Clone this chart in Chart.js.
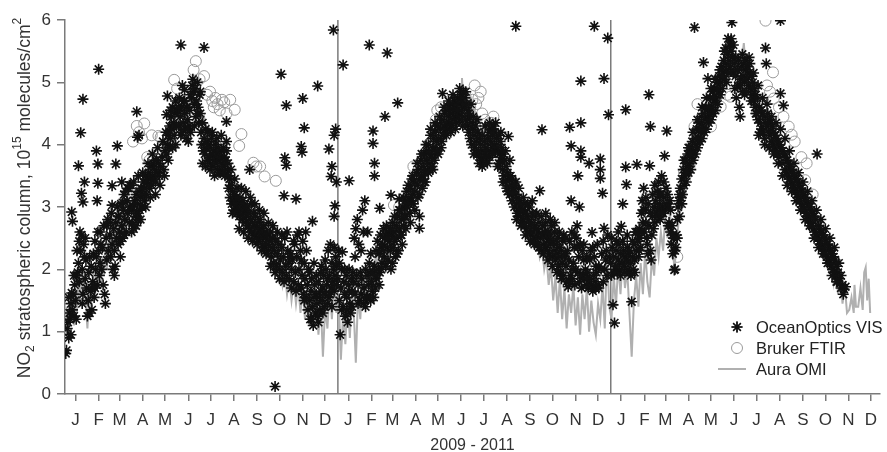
<!DOCTYPE html>
<html>
<head>
<meta charset="utf-8">
<script src="https://cdn.jsdelivr.net/npm/chart.js@4.4.1/dist/chart.umd.min.js"></script>
<style>
  html, body { margin: 0; padding: 0; background: #fff; }
  #wrap { width: 887px; height: 452px; position: relative; }
</style>
</head>
<body>
<div id="wrap"><canvas id="no2Chart"></canvas></div>
<script>
// x = days since 1 Jan 2009, y = NO2 column (1e15 molecules/cm2)
const monthLetters = ['J', 'F', 'M', 'A', 'M', 'J', 'J', 'A', 'S', 'O', 'N', 'D'];
const monthStarts = [0, 31, 59, 90, 120, 151, 181, 212, 243, 273, 304, 334];
const yearStarts = [0, 365, 730];
const yearBoundaries = [365, 730];
const yTicks = [0, 1, 2, 3, 4, 5, 6];

// OceanOptics VIS (asterisks)
const oceanOptics = [
  // 2009
  [1,0.65],[2,0.70],[3,1.05],[4,1.15],[5,0.9],[6,1.3],[7,1.2],[8,1.45],[9,1.62],[10,1.35],[11,1.6],[12,1.25],[13,1.75],[14,1.5],[15,1.9],
  [16,2.3],[17,1.95],[18,2.1],[19,1.8],[20,2.6],[21,2.3],[22,2.55],[23,2.0],[24,1.6],[25,2.4],[26,2.2],[27,1.85],[28,2.15],[29,1.7],
  [30,1.25],[31,1.5],[32,1.95],[33,1.3],[34,1.65],[35,2.05],[36,1.7],[37,1.8],[38,2.25],[39,1.55],[40,2.45],[41,2.0],[42,2.2],[43,1.75],
  [44,2.6],[45,2.3],[46,1.9],[47,2.1],[48,2.4],[49,2.0],[50,2.35],[52,2.7],[53,1.6],[54,1.45],[55,2.5],[56,2.15],[57,2.8],[58,2.3],
  [60,2.55],[61,2.2],[62,2.9],[63,2.4],[64,2.0],[65,2.65],[66,2.3],[67,2.05],[68,2.75],[69,2.5],[70,3.0],[71,2.4],[72,2.85],[73,2.6],
  [74,2.2],[75,3.05],[76,2.7],[77,2.5],[78,2.95],[79,3.2],[80,2.8],[82,2.6],[83,3.1],[84,2.9],[85,3.3],[86,2.75],[87,3.0],[88,3.35],[89,2.95],
  [90,2.75],[91,3.0],[92,2.65],[93,3.1],[94,2.85],[95,3.2],[96,2.9],[97,3.05],[98,2.8],[99,3.25],[100,2.95],[101,3.15],[102,3.3],[103,3.0],
  [104,3.2],[105,3.4],[106,3.1],[107,3.3],[108,3.5],[109,3.2],[110,3.4],[112,3.55],[113,3.3],[114,3.45],[115,3.65],[116,3.35],[117,3.5],[118,3.7],[119,3.45],
  [120,3.6],[121,3.4],[122,3.75],[123,3.55],[125,3.7],[126,3.5],[128,3.65],[130,3.8],[132,3.6],[134,3.9],[136,3.85],[137,4.0],[138,4.15],[139,3.95],
  [140,4.3],[141,4.1],[142,4.45],[143,4.25],[144,4.6],[145,4.35],[146,4.15],[147,4.5],[148,4.7],[149,4.3],[150,4.55],
  [151,4.55],[152,4.3],[153,4.75],[154,4.45],[155,4.15],[156,4.6],[157,4.95],[158,4.35],[159,4.7],[160,4.5],[161,4.25],[162,4.1],[163,4.6],
  [164,4.4],[165,4.05],[166,4.3],[167,4.55],[168,4.2],[169,4.75],[170,4.95],[171,5.05],[172,4.85],[173,4.65],[174,4.9],[175,4.45],[176,4.7],
  [177,5.0],[178,4.6],[179,4.35],[180,4.8],[181,4.5],[182,4.2],[183,4.0],[184,4.35],[185,3.9],[186,4.1],[187,3.85],[188,4.25],[189,3.95],
  [190,4.05],[191,3.75],[192,4.0],[193,3.8],[194,3.95],[195,3.7],[196,4.1],[197,3.85],[198,3.65],[199,3.9],[200,3.75],[201,4.0],[202,3.7],
  [203,3.85],[204,3.6],[205,3.95],[206,3.75],[207,3.8],[208,3.55],[209,3.9],[210,3.7],[211,3.65],[212,3.95],[213,3.8],[214,3.5],[215,3.75],
  [216,3.9],[217,3.6],[218,3.7],[219,3.3],[220,3.45],[221,3.15],[222,3.35],[223,3.05],[224,3.25],[225,3.1],[226,2.95],[227,3.2],[228,3.0],
  [229,3.15],[230,2.9],[231,3.1],[232,3.05],[233,2.85],[234,3.15],[235,2.95],[236,3.0],[237,2.8],[238,3.1],[239,2.9],[240,3.05],[241,2.75],
  [242,2.95],[243,2.85],[244,3.0],[245,2.7],[246,2.9],[247,2.65],[248,2.8],[249,3.05],[250,2.6],[251,2.75],[252,2.9],[253,2.55],[254,2.7],
  [255,2.85],[256,2.5],[257,2.65],[258,2.75],[259,2.45],[260,2.6],[261,2.8],[262,2.5],[263,2.65],[264,2.4],[265,2.55],[266,2.7],[267,2.35],
  [268,2.5],[269,2.6],[270,2.4],[271,2.55],[272,2.3],[274,2.45],[275,2.6],[276,2.2],[277,2.35],[278,2.5],[279,2.1],[280,2.3],[282,2.45],
  [283,2.05],[284,2.25],[286,2.4],[287,2.0],[288,2.15],[290,2.35],[291,1.95],[292,2.2],[294,2.5],[295,2.05],[296,1.9],[298,2.3],[299,2.1],
  [300,1.85],[302,2.25],[303,2.0],[304,2.15],[306,1.8],[307,2.4],[308,1.95],[310,2.2],[311,2.55],[312,1.75],[313,2.0],[315,2.3],[316,1.7],
  [317,1.9],[318,2.45],[319,1.6],[320,2.1],[321,1.85],[322,2.6],[323,1.55],[324,1.75],[325,1.35],[326,2.0],[327,1.5],[328,1.2],[329,1.65],
  [330,1.85],[331,1.4],[332,1.1],[333,1.55],[334,1.75],[335,1.3],[336,1.6],[337,1.45],[338,1.25],[339,1.8],[340,1.55],[341,1.35],[342,1.65],
  [343,2.05],[344,1.5],[345,1.7],[346,1.9],[347,1.4],[348,1.6],[349,2.0],[350,1.75],[351,1.85],[352,2.3],[353,1.55],[354,1.9],[355,2.4],
  [356,1.7],[357,2.1],[358,1.8],[359,2.0],[360,1.65],[361,1.9],[362,2.2],[363,1.75],
  // 2009, spread of the band
  [5,1.55],[8,0.95],[12,1.9],[15,1.2],[19,2.45],[23,1.45],[27,2.5],[33,2.2],[36,1.35],[40,1.7],[47,2.6],[51,1.75],[56,2.7],[61,2.75],
  [66,1.9],[71,2.85],[74,2.45],[79,2.55],[81,3.25],[86,3.35],[89,2.6],[92,3.4],[95,2.7],[98,3.5],[101,2.8],[104,3.55],[108,3.0],[111,3.7],
  [114,3.15],[117,3.85],[121,3.2],[124,3.95],[127,3.35],[131,4.05],[133,3.5],[135,4.2],[138,3.75],[141,4.55],[144,3.95],[148,4.0],[152,4.6],
  [156,4.2],[160,4.7],[164,4.25],[168,4.8],[173,4.3],[177,4.5],[181,4.85],[184,3.7],[188,3.65],[191,4.2],[194,3.6],[197,4.2],[200,3.5],
  [203,4.1],[206,3.55],[209,4.15],[213,3.55],[216,4.05],[219,3.5],[222,3.6],[224,2.9],[227,3.45],[230,3.3],[233,2.65],[236,3.3],[239,2.6],
  [242,3.25],[245,2.5],[248,3.15],[251,2.45],[254,3.05],[257,2.4],[260,2.95],[263,2.3],[266,2.9],[269,2.25],[272,2.75],[275,2.05],[278,2.7],
  [281,1.95],[284,2.6],[287,1.85],[290,2.55],[293,1.8],[297,2.6],[300,2.2],[303,1.7],[306,2.45],[309,1.65],[313,2.6],[316,2.15],[320,1.5],
  [323,2.3],[327,1.95],[330,1.2],[333,2.1],[336,1.9],[339,1.15],[342,1.95],[345,1.3],[348,2.15],[351,1.45],[354,1.6],[357,1.4],[360,2.35],[363,2.05],
  // 2010
  [365,1.85],[366,2.3],[367,1.5],[368,0.95],[369,1.7],[370,2.0],[371,2.28],[372,1.4],[373,1.8],[374,1.6],[375,1.25],[376,1.9],[377,1.55],
  [378,1.15],[379,1.75],[380,2.0],[381,1.45],[382,1.3],[383,1.85],[384,1.65],[385,1.95],[386,1.8],[387,2.5],[388,1.6],[389,2.65],[390,1.9],
  [391,2.8],[392,1.75],[393,2.4],[394,1.5],[395,1.95],[396,1.6],[397,1.85],[398,2.95],[399,1.45],[400,1.7],[401,3.1],[402,2.0],[403,1.55],
  [404,1.9],[405,2.6],[406,1.75],[407,2.1],[408,1.95],[409,1.5],[410,1.8],[411,1.65],[412,1.95],[414,2.05],[415,1.7],[416,2.3],[417,1.85],
  [418,2.45],[419,2.0],[420,2.25],[421,1.95],[422,2.55],[423,2.35],[424,2.1],[425,2.4],[426,2.65],[427,2.2],[428,2.5],[429,2.05],[430,2.7],
  [431,2.35],[432,2.15],[433,2.6],[434,2.45],[435,2.3],[436,2.0],[437,2.55],[438,2.75],[439,2.35],[440,2.6],[441,2.45],[442,2.2],[443,2.7],
  [444,2.5],[445,2.85],[446,2.3],[447,2.65],[448,2.95],[449,2.55],[450,2.8],[451,2.4],[452,3.0],[453,2.7],[454,2.85],
  [455,3.1],[456,2.85],[457,3.25],[458,3.0],[459,3.35],[460,3.15],[461,2.9],[462,3.3],[463,3.1],[464,3.45],[465,3.2],[466,3.05],[467,3.4],
  [468,3.25],[470,3.55],[471,3.35],[472,3.15],[473,3.6],[474,2.66],[475,3.45],[476,3.75],[477,3.5],[478,3.3],[479,3.65],[480,3.85],[481,3.55],
  [482,3.4],[483,3.75],[484,3.9],[485,3.6],[486,4.0],[487,3.7],[488,3.85],[489,4.15],[490,3.8],[491,3.65],[492,3.95],[493,4.1],[494,3.75],
  [495,4.2],[496,3.9],[497,4.05],[498,4.3],[499,3.85],[500,4.1],[502,4.25],[503,3.95],[504,4.4],[506,4.15],[507,4.3],[508,4.5],[509,4.2],
  [510,4.35],[511,4.55],[512,4.25],[513,4.45],[514,4.6],[515,4.35],[516,4.5],[517,4.3],[518,4.65],[519,4.4],[520,4.55],[521,4.7],[522,4.45],
  [523,4.6],[524,4.35],[525,4.75],[526,4.5],[527,4.65],[528,4.4],[529,4.8],[530,4.55],[531,4.7],[532,4.45],[533,4.85],[534,4.6],[535,4.75],
  [536,4.4],[537,4.65],[538,4.3],[539,4.55],[540,4.2],[541,4.45],[542,4.1],[543,4.35],[544,4.0],[545,4.25],[546,4.45],[547,4.15],[548,3.95],
  [549,4.3],[550,4.05],[551,3.85],[552,4.2],[553,3.9],[554,4.1],[555,3.8],[556,4.0],[557,3.75],[558,4.15],[559,3.9],[560,3.7],[561,4.05],
  [562,3.85],[563,3.95],[564,3.75],[565,4.1],[566,3.9],[567,4.2],[568,3.8],[569,4.05],[570,4.25],[571,3.95],[572,4.15],[573,4.3],[574,4.0],
  [575,4.2],[576,3.9],[577,4.1],[578,3.95],[580,4.15],[581,3.85],[582,4.05],[583,3.75],[584,3.95],[585,3.6],[586,3.85],[587,3.5],[588,3.75],
  [589,3.4],[590,3.65],[591,3.3],[592,3.55],[594,3.45],[595,3.2],[596,3.5],[597,3.35],[598,3.1],[600,3.3],[601,3.0],[602,3.2],[603,3.4],
  [604,3.05],[605,2.9],[606,3.15],[607,2.95],[608,3.1],[609,2.85],[610,3.0],[611,2.75],[612,2.95],[613,2.8],[614,3.05],[615,2.7],[616,2.9],
  [617,2.65],[618,2.85],[619,2.6],[620,2.8],[621,3.0],[622,2.7],[623,2.55],[624,2.75],[625,2.9],[626,2.6],[627,2.45],[628,2.7],[629,2.85],
  [630,2.5],[631,2.65],[632,2.4],[633,2.6],[634,2.75],[636,2.5],[637,2.3],[638,2.55],[639,2.7],[640,2.4],[641,2.6],[642,2.35],[643,2.75],
  [644,2.5],[645,2.3],[646,2.6],[647,2.45],[648,2.25],[649,2.55],[650,2.4],[651,2.7],[652,2.2],[653,2.45],[654,2.3],[655,2.6],[656,2.15],
  [657,2.4],[658,2.25],[659,2.5],[660,2.05],[661,2.35],[662,2.2],[663,1.95],[664,2.3],[665,2.1],[666,2.45],[667,1.9],[668,2.2],
  [669,2.25],[670,2.05],[671,1.8],[672,2.3],[673,1.72],[674,2.15],[675,2.45],[676,1.9],[678,2.6],[679,1.85],[680,2.1],[681,2.35],[682,1.75],
  [683,2.0],[684,2.5],[685,2.7],[686,1.95],[687,2.2],[688,1.8],[689,2.4],[691,1.7],[692,2.3],[693,1.9],[694,2.15],[695,1.85],[696,2.0],
  [697,1.75],[698,2.2],[699,1.95],[700,1.7],[702,1.85],[703,2.3],[704,1.75],[706,1.65],[707,1.9],[708,2.2],[709,1.8],[710,1.7],[711,1.95],
  [712,2.4],[713,1.75],[714,2.05],[718,2.25],[720,2.45],[722,2.0],[724,2.3],[726,2.55],[728,2.2],
  // 2010, spread of the band
  [367,2.1],[370,1.35],[374,2.0],[377,1.35],[380,1.65],[384,1.4],[388,2.2],[392,1.45],[396,2.3],[399,2.6],[402,1.4],[405,1.55],[409,2.25],
  [413,1.55],[416,1.9],[420,1.75],[423,2.0],[426,2.3],[429,2.55],[432,2.5],[435,2.65],[438,2.1],[441,2.85],[444,2.25],[447,2.95],[450,2.55],
  [453,3.15],[456,2.65],[459,3.05],[462,2.75],[465,3.5],[468,2.95],[471,3.7],[474,3.2],[477,3.85],[480,3.4],[483,4.0],[486,3.55],[489,4.25],
  [492,3.6],[495,4.35],[498,3.9],[501,4.45],[504,4.05],[507,4.6],[510,4.15],[513,4.7],[516,4.2],[519,4.8],[522,4.25],[525,4.55],[528,4.9],
  [532,4.3],[536,4.85],[540,4.5],[543,4.65],[547,3.85],[551,4.4],[554,3.7],[558,3.65],[562,4.3],[565,3.7],[568,4.35],[572,3.85],[576,4.35],
  [580,3.7],[583,4.2],[586,3.4],[589,3.9],[592,3.25],[595,3.75],[598,3.45],[601,3.35],[604,2.8],[607,3.3],[610,2.7],[613,3.15],[616,2.55],
  [619,3.05],[622,2.45],[625,3.1],[628,2.4],[631,2.9],[634,2.35],[637,2.85],[640,2.25],[643,2.9],[646,2.15],[649,2.8],[652,2.05],[655,2.75],
  [658,1.95],[661,2.6],[664,1.85],[667,2.55],[670,2.5],[674,1.8],[678,2.0],[682,2.55],[686,2.35],[690,1.9],[694,2.4],[698,1.85],[702,2.15],
  [706,2.35],[710,2.05],[714,1.7],[717,2.0],[720,1.8],[723,2.15],[725,1.9],
  // 2011
  [730,2.1],[731,1.9],[732,2.35],[734,2.2],[736,2.0],[737,2.3],[738,2.45],[739,1.95],[740,2.15],[741,2.4],[742,2.0],[743,2.25],[745,2.1],
  [747,2.3],[748,2.05],[749,2.2],[751,2.15],[752,2.35],[753,2.0],[754,2.25],[755,1.95],[756,2.1],[757,1.9],[759,2.2],[760,2.0],[761,2.4],
  [762,2.15],[763,2.6],[764,2.3],[766,2.45],[767,2.2],[768,2.65],[769,2.5],[770,2.35],[771,2.9],[772,3.1],[773,2.75],[774,3.3],[775,2.6],
  [776,2.95],[777,3.15],[778,2.5],[779,2.4],[780,2.25],[781,2.7],[783,2.3],[784,2.15],[785,2.55],[786,2.85],[787,2.65],[788,3.0],[789,2.75],
  [790,3.1],[791,2.9],[792,3.25],[793,2.95],[794,3.4],[795,3.05],[796,2.8],[797,3.2],[798,3.5],[799,3.0],[800,2.9],[801,3.15],[803,2.95],
  [804,3.05],[806,3.2],[807,3.0],[808,2.75],[809,3.1],[810,2.6],[811,2.4],[812,2.7],[813,2.25],[814,2.5],[816,2.0],[817,2.35],[818,2.55],
  [819,2.8],[820,3.0],[821,3.1],[822,2.85],[823,3.3],[824,3.15],[825,3.45],[826,3.2],[827,3.6],[828,3.35],[829,3.5],[830,3.75],[831,3.4],
  [832,3.65],[833,3.85],[834,3.55],[835,3.7],[836,3.95],[837,3.6],[838,3.8],[839,4.05],[840,3.75],[841,3.9],[843,3.85],[844,4.0],[845,4.25],
  [846,3.95],[847,4.1],[848,4.35],[849,4.05],[850,4.2],[851,4.45],[852,4.1],[853,4.3],[855,4.2],[856,4.4],[857,4.6],[858,4.25],[859,4.45],
  [861,4.35],[862,4.5],[863,4.75],[864,4.4],[865,4.6],[866,4.85],[867,4.5],[868,4.7],[869,4.9],[870,4.55],[871,4.75],[872,5.0],[873,4.65],
  [874,4.85],[875,5.1],[876,4.8],[877,5.0],[878,5.25],[879,4.9],[880,5.15],[881,5.35],[882,5.05],[883,5.3],[884,5.55],[885,5.2],[886,5.45],
  [887,5.7],[888,5.35],[889,5.6],[890,5.25],[891,5.5],[892,5.96],[893,5.4],[894,5.15],[895,5.3],[896,4.9],[897,5.1],[898,4.75],[899,5.2],
  [900,4.95],[901,5.35],[902,4.6],[904,5.05],[905,5.25],[906,4.85],[907,5.1],[908,5.3],[909,5.0],[910,5.2],[911,5.35],[912,5.05],[913,5.25],
  [914,4.95],[915,5.15],[916,5.3],[917,4.9],[918,5.1],[919,4.8],[920,5.0],[921,4.7],[922,4.9],[923,4.6],[924,4.8],[925,4.5],[926,4.75],
  [927,4.4],[929,4.6],[930,4.35],[931,4.55],[932,4.25],[933,4.5],[934,4.2],[935,4.45],[936,4.1],[937,4.35],[939,4.3],[940,4.5],[941,4.2],
  [942,4.4],[943,4.15],[944,4.35],[945,4.05],[946,4.3],[947,4.0],[948,4.2],[949,3.95],[950,4.15],[951,3.9],[952,4.1],[953,3.85],[954,4.05],
  [955,3.8],[956,4.0],[958,3.95],[959,3.7],[960,3.9],[962,3.85],[963,3.6],[964,3.8],[965,3.55],[966,3.75],[967,3.5],[968,3.7],[969,3.45],
  [970,3.65],[971,3.4],[972,3.6],[973,3.35],[974,3.55],[975,3.3],[976,3.5],[977,3.25],[978,3.45],[979,3.2],[980,3.4],[981,3.15],[982,3.35],
  [983,3.1],[984,3.3],[985,3.05],[986,3.25],[987,3.0],[988,3.2],[989,2.95],[990,3.15],[991,2.9],[992,3.1],[993,2.85],[994,3.05],[995,2.8],
  [996,3.0],[997,2.75],[998,2.95],[999,2.7],[1000,2.9],[1001,2.65],[1002,2.85],[1003,2.6],[1004,2.8],[1005,2.55],[1007,2.5],[1008,2.7],
  [1009,2.45],[1010,2.65],[1011,2.4],[1012,2.6],[1013,2.35],[1014,2.55],[1015,2.3],[1016,2.5],[1017,2.25],[1018,2.45],[1019,2.2],[1020,2.4],
  [1021,2.15],[1022,2.35],[1023,2.1],[1024,2.3],[1025,2.05],[1026,2.25],[1027,2.0],[1028,2.2],[1029,1.95],[1030,2.15],[1031,1.9],[1032,2.05],
  [1033,1.8],[1034,1.95],[1036,1.85],[1038,1.7],[1040,1.75],[1042,1.68],[1044,1.72],
  // 2011, spread of the band
  [731,2.5],[734,1.95],[737,2.05],[740,2.6],[743,1.9],[746,2.45],[749,1.95],[752,2.55],[755,2.3],[759,2.45],[762,1.95],[765,2.6],[768,2.3],
  [771,2.6],[774,2.95],[777,2.75],[780,3.05],[783,2.9],[786,3.2],[789,3.35],[792,2.85],[795,3.2],[798,2.9],[801,3.4],[804,3.3],[807,2.7],
  [810,2.95],[813,2.55],[816,2.3],[819,2.5],[822,3.2],[825,3.05],[828,3.75],[831,3.55],[834,3.95],[837,3.85],[840,4.2],[843,4.1],[846,4.4],
  [849,4.25],[852,4.6],[855,4.5],[858,4.75],[861,4.6],[864,4.9],[867,4.75],[870,5.05],[873,4.9],[876,5.2],[879,5.1],[882,5.5],[885,5.0],
  [888,5.15],[891,5.7],[894,5.6],[897,5.4],[900,5.2],[903,4.95],[906,5.45],[909,4.8],[912,4.85],[915,5.4],[918,4.7],[921,5.15],[924,4.5],
  [927,4.95],[930,4.2],[933,4.75],[936,4.0],[939,4.65],[942,3.95],[945,4.45],[948,3.85],[951,4.35],[954,3.7],[957,4.25],[960,3.5],[963,4.1],
  [966,3.35],[969,3.9],[972,3.25],[975,3.7],[978,3.1],[981,3.55],[984,2.95],[987,3.4],[990,2.8],[993,3.25],[996,2.7],[999,3.1],[1002,2.5],
  [1005,2.95],[1008,2.35],[1011,2.8],[1014,2.25],[1017,2.65],[1020,2.1],[1023,2.5],[1026,1.9],[1029,2.35],[1032,1.8],[1035,2.1],[1038,1.9],[1041,1.6],
  // scattered high / low values
  [9,2.92],[10,2.77],[18,3.66],[21,4.19],[22,3.22],[24,4.73],[24,3.08],[26,3.4],[42,3.9],[43,3.1],[44,3.69],[44,3.38],[45,5.21],
  [63,3.34],[63,3.03],[68,3.69],[70,3.98],[76,3.4],[77,3.07],[96,4.53],[97,4.12],[99,4.15],[136,4.48],[137,4.78],[155,5.6],[160,4.88],
  [186,5.56],[216,4.37],[247,3.6],[281,0.12],[289,5.13],[293,3.18],[294,3.79],[296,3.67],[296,4.63],[309,3.13],[316,3.97],[317,3.88],
  [318,4.74],[320,4.27],[331,2.77],[338,4.94],[353,3.93],[356,3.49],[357,3.65],[359,5.84],[360,4.15],[360,2.85],[361,3.02],[362,4.25],[363,3.4],
  [372,5.28],[380,3.42],[407,5.6],[412,4.22],[412,4.02],[414,3.7],[414,3.5],[421,2.98],[428,4.45],[431,5.47],[436,3.19],[445,4.67],
  [447,3.13],[474,2.85],[505,4.82],[579,3.65],[593,4.13],[599,3.22],[603,5.9],[635,3.26],[638,4.24],[675,4.28],[677,3.98],[677,3.1],
  [686,3.5],[688,3.0],[690,5.02],[690,4.35],[690,3.9],[690,3.8],[701,3.7],[705,2.59],[708,5.9],[716,3.77],[716,3.6],[716,3.46],[719,3.22],
  [721,5.06],[721,2.66],[726,5.71],[727,4.48],[733,1.43],[735,1.14],[744,2.69],[746,3.05],[750,4.56],[750,3.64],[751,3.36],[758,1.48],
  [765,3.68],[781,4.8],[782,3.66],[783,4.29],[802,3.82],[805,4.22],[815,1.99],[842,5.88],[854,5.32],[860,5.06],[903,4.45],[928,4.15],
  [937,5.55],[938,5.3],[957,5.99],[957,4.82],[961,4.63],[1006,3.85]
];

// Bruker FTIR (open circles)
const brukerFtir = [
  [91,4.05],[96,4.3],[99,4.2],[103,4.1],[106,4.34],[110,3.8],[113,3.75],[116,4.15],[125,4.14],[128,4.12],[146,5.04],[150,4.9],[153,4.7],
  [165,4.65],[172,5.2],[175,5.34],[180,5.05],[186,5.1],[190,4.8],[194,4.85],[197,4.7],[199,4.6],[201,4.75],[204,4.65],[207,4.55],[210,4.72],
  [213,4.68],[216,4.5],[221,4.72],[227,4.56],[233,3.98],[236,4.17],[252,3.71],[256,3.65],[261,3.65],[267,3.49],[282,3.42],
  [440,3.03],[447,3.0],[450,2.7],[466,3.65],[468,3.49],[496,4.4],[498,4.55],[503,4.6],[505,4.45],[542,4.6],[545,4.72],[548,4.95],
  [550,4.65],[553,4.75],[556,4.85],[558,4.5],[562,4.4],[566,4.28],[570,4.35],[573,4.45],[697,2.04],
  [819,2.2],[828,3.55],[833,3.65],[839,3.94],[842,4.29],[846,4.65],[864,4.29],[870,4.88],[877,4.61],[886,4.8],[890,4.77],
  [937,5.99],[939,4.95],[943,4.85],[947,5.16],[948,4.74],[955,4.6],[961,4.45],[968,4.29],[972,4.16],[976,4.05],[985,3.8],[990,3.43],[992,3.7],[1000,3.2]
];

// Aura OMI (grey line)
const auraOmi = [
  [0,1.1],[2,1.4],[4,0.9],[6,1.5],[8,1.2],[10,1.6],[12,1.1],[14,1.7],[16,1.3],[18,1.9],[20,1.45],[22,2.0],[24,1.6],[26,1.95],[28,1.4],
  [30,1.05],[32,1.6],[34,1.2],[36,1.75],[38,1.9],[40,1.5],[42,2.0],[44,1.7],[46,2.1],[48,1.8],[50,2.2],[52,1.9],[54,2.3],[56,2.0],[58,2.45],
  [60,2.2],[62,2.5],[64,2.3],[66,2.6],[68,2.4],[70,2.7],[72,2.5],[74,2.8],[76,2.6],[78,2.85],[80,2.7],[82,3.0],[84,2.8],[86,3.1],[88,2.95],
  [90,3.15],[93,3.0],[96,3.3],[99,3.15],[102,3.4],[105,3.3],[108,3.5],[111,3.4],[114,3.55],[117,3.7],[120,3.6],[123,3.8],[126,3.7],[129,3.9],
  [132,4.05],[135,3.95],[138,4.15],[141,4.3],[144,4.2],[147,4.4],[150,4.3],[153,4.5],[156,4.45],[159,4.6],[162,4.5],[165,4.7],[168,4.6],
  [171,4.75],[174,4.65],[177,4.5],[180,4.6],[183,4.35],[186,4.45],[189,4.2],[192,4.3],[195,4.1],[198,4.15],[201,3.95],[204,4.05],[207,3.85],
  [210,3.9],[213,3.7],[216,3.6],[219,3.4],[222,3.25],[225,3.1],[228,3.05],[231,2.95],[234,3.0],[237,2.85],[240,2.9],[243,2.75],[246,2.8],
  [249,2.65],[252,2.7],[255,2.55],[258,2.6],[261,2.45],[264,2.5],[267,2.35],[270,2.4],[273,2.2],[276,2.3],[279,2.05],[282,2.15],[285,1.9],
  [288,2.05],[291,1.75],[294,1.95],[297,1.6],[300,1.85],[303,1.5],[306,1.8],[309,1.45],[312,1.75],[315,1.3],[318,1.7],[321,1.2],[324,1.65],
  [327,1.1],[330,1.55],[333,1.25],[336,1.6],[339,0.95],[342,1.5],[345,0.6],[348,1.4],[351,1.05],[354,1.7],[357,1.2],[360,1.9],[363,1.3],
  [366,1.6],[369,0.55],[372,1.3],[375,0.8],[378,1.5],[381,0.9],[384,1.7],[387,1.1],[389,0.5],[392,1.6],[395,1.2],[398,1.9],[401,1.4],
  [404,2.0],[407,1.6],[410,2.1],[413,1.8],[416,2.3],[419,1.9],[422,2.4],[425,2.1],[428,2.5],[431,2.2],[434,2.6],[437,2.4],[440,2.75],
  [443,2.55],[446,2.9],[449,2.7],[452,3.0],[455,2.85],[458,3.1],[461,3.0],[464,3.3],[467,3.15],[470,3.45],[473,3.35],[476,3.6],[479,3.5],
  [482,3.75],[485,3.65],[488,3.85],[491,3.8],[494,4.0],[497,3.9],[500,4.15],[503,4.05],[506,4.3],[509,4.2],[512,4.4],[515,4.35],[518,4.5],
  [521,4.45],[524,4.6],[527,4.5],[530,4.7],[531,5.07],[533,4.6],[536,4.75],[539,4.65],[542,4.8],[545,4.6],[548,4.55],[551,4.35],[554,4.4],
  [557,4.2],[560,4.25],[563,4.1],[566,4.15],[569,4.05],[572,4.2],[575,4.0],[578,3.95],[581,3.8],[584,3.85],[587,3.6],[590,3.5],[593,3.3],
  [596,3.35],[599,3.1],[602,3.2],[605,3.0],[608,3.05],[611,2.85],[614,2.95],[617,2.7],[620,2.8],[623,2.55],[626,2.65],[629,2.4],[632,2.5],
  [635,2.2],[638,2.35],[641,2.0],[644,2.2],[647,1.75],[650,2.05],[653,1.5],[656,1.9],[659,1.3],[662,1.85],[665,1.2],[668,1.7],[671,1.05],
  [674,1.6],[677,1.3],[680,1.75],[683,1.1],[686,1.55],[689,0.95],[692,1.6],[695,1.2],[698,1.7],[701,1.0],[704,1.5],[707,1.15],[710,0.95],
  [713,1.45],[716,1.2],[719,1.75],[722,1.05],[725,2.3],[728,1.4],[731,1.2],[734,1.9],[737,1.4],[740,2.1],[743,1.6],[746,2.2],[749,1.7],
  [752,2.0],[755,1.3],[758,0.6],[761,1.5],[764,1.9],[767,1.4],[770,2.1],[773,1.6],[776,2.3],[779,1.8],[782,1.55],[785,2.2],[788,1.9],
  [791,2.5],[794,2.2],[797,2.6],[800,2.3],[803,2.85],[806,2.5],[809,2.9],[812,2.6],[815,2.0],[818,2.4],[821,2.8],[824,3.1],[827,3.3],
  [830,3.2],[833,3.5],[836,3.45],[839,3.7],[842,3.65],[845,3.9],[848,4.0],[851,4.15],[854,4.1],[857,4.3],[860,4.4],[863,4.35],[866,4.55],
  [869,4.5],[872,4.7],[875,4.85],[878,4.75],[881,5.0],[884,5.1],[887,5.3],[890,5.2],[893,5.45],[896,5.25],[899,5.35],[902,5.15],[905,5.3],
  [908,5.63],[911,5.1],[914,5.2],[917,4.9],[920,5.0],[923,4.7],[926,4.8],[929,4.5],[932,4.6],[935,4.35],[938,4.45],[941,4.25],[944,4.3],
  [947,4.1],[950,4.15],[953,3.95],[956,4.0],[959,3.8],[962,3.85],[965,3.6],[968,3.65],[971,3.45],[974,3.5],[977,3.3],[980,3.35],[983,3.15],
  [986,3.2],[989,3.0],[992,3.05],[995,2.85],[998,2.9],[1001,2.7],[1004,2.75],[1007,2.5],[1010,2.6],[1013,2.35],[1016,2.45],[1019,2.2],
  [1022,2.0],[1025,2.25],[1028,1.8],[1031,2.05],[1034,1.6],[1037,1.9],[1040,1.45],[1043,1.75],[1046,1.3],[1049,1.35],[1052,1.55],[1055,1.3],
  [1056,1.75],[1058,1.4],[1061,1.4],[1064,1.7],[1067,1.35],[1069,1.95],[1071,2.03],[1073,1.5],[1075,1.85],[1077,1.3]
];

// tick positions: middle of every month of the three years
const monthTicks = [];
const monthTickLabels = [];
yearStarts.forEach(y0 => {
  monthStarts.forEach((m0, i) => {
    monthTicks.push(y0 + m0 + 14);
    monthTickLabels.push(monthLetters[i]);
  });
});

const toXY = arr => arr.map(p => ({ x: p[0], y: p[1] }));

const fontFamily = "'Liberation Sans', Arial, Helvetica, sans-serif";
const axisColor = '#7a7a7a';
const textColor = '#333333';

// y-axis title with real sub/superscripts
const yTitlePlugin = {
  id: 'yTitle',
  afterDraw(chart) {
    const ctx = chart.ctx;
    const area = chart.chartArea;
    const parts = [
      ['NO', 0], ['2', 1], [' stratospheric column, 10', 0], ['15', -1], [' molecules/cm', 0], ['2', -1]
    ];
    const big = '17.5px ' + fontFamily;
    const small = '12px ' + fontFamily;
    ctx.save();
    let total = 0;
    parts.forEach(p => {
      ctx.font = p[1] === 0 ? big : small;
      total += ctx.measureText(p[0]).width;
    });
    ctx.translate(30, (area.top + area.bottom) / 2 - 9);
    ctx.rotate(-Math.PI / 2);
    ctx.fillStyle = textColor;
    ctx.textBaseline = 'alphabetic';
    let x = -total / 2;
    parts.forEach(p => {
      ctx.font = p[1] === 0 ? big : small;
      const dy = p[1] === 1 ? 4 : (p[1] === -1 ? -9 : 0);
      ctx.fillText(p[0], x, dy);
      x += ctx.measureText(p[0]).width;
    });
    ctx.restore();
  }
};

// legend inside the plot, bottom right
const legendPlugin = {
  id: 'insideLegend',
  afterDraw(chart) {
    const ctx = chart.ctx;
    const rows = [
      { label: 'OceanOptics VIS', type: 'star' },
      { label: 'Bruker FTIR', type: 'circle' },
      { label: 'Aura OMI', type: 'line' }
    ];
    const mx = 737, tx = 756, y0 = 327, step = 21;
    ctx.save();
    rows.forEach((r, i) => {
      const y = y0 + i * step;
      if (r.type === 'star') {
        Chart.helpers.drawPoint(ctx, { pointStyle: 'star', radius: 5.5, borderWidth: 1.6 }, mx, y);
        ctx.strokeStyle = '#111';
        ctx.lineWidth = 1.6;
        ctx.stroke();
      } else if (r.type === 'circle') {
        ctx.beginPath();
        ctx.arc(mx, y, 5.5, 0, Math.PI * 2);
        ctx.strokeStyle = '#9a9a9a';
        ctx.lineWidth = 1;
        ctx.stroke();
      } else {
        ctx.beginPath();
        ctx.moveTo(718, y);
        ctx.lineTo(746, y);
        ctx.strokeStyle = '#b0b0b0';
        ctx.lineWidth = 2;
        ctx.stroke();
      }
      ctx.font = '16.5px ' + fontFamily;
      ctx.fillStyle = '#222';
      ctx.textBaseline = 'middle';
      ctx.fillText(r.label, tx, y + 1);
    });
    ctx.restore();
  }
};

const datasets = [
  {
    label: 'OceanOptics VIS',
    data: toXY(oceanOptics),
    pointStyle: 'star',
    pointRadius: 5.5,
    pointBorderWidth: 1.6,
    borderColor: '#111',
    backgroundColor: '#111',
    showLine: false,
    order: 1
  },
  {
    label: 'Aura OMI',
    type: 'line',
    data: toXY(auraOmi),
    borderColor: '#b0b0b0',
    borderWidth: 2,
    pointRadius: 0,
    fill: false,
    tension: 0,
    order: 2
  },
  {
    label: 'Bruker FTIR',
    data: toXY(brukerFtir),
    pointStyle: 'circle',
    pointRadius: 5.5,
    pointBorderWidth: 1,
    borderColor: '#9a9a9a',
    backgroundColor: 'rgba(255,255,255,0)',
    showLine: false,
    order: 3
  }
];

yearBoundaries.forEach(d => {
  datasets.push({
    label: 'year',
    type: 'line',
    data: [{ x: d, y: yTicks[0] }, { x: d, y: yTicks[yTicks.length - 1] }],
    borderColor: axisColor,
    borderWidth: 1.5,
    pointRadius: 0,
    order: 4
  });
});

Chart.defaults.font.family = fontFamily;
Chart.defaults.color = textColor;

const ctx = document.getElementById('no2Chart').getContext('2d');
new Chart(ctx, {
  type: 'scatter',
  data: { datasets: datasets },
  options: {
    responsive: true,
    maintainAspectRatio: false,
    devicePixelRatio: 1,
    animation: false,
    layout: { padding: { top: 20, right: 0, left: 0, bottom: 0 } },
    plugins: {
      legend: { display: false },
      tooltip: { enabled: false }
    },
    scales: {
      x: {
        type: 'linear',
        min: 0,
        max: 1090,
        afterBuildTicks: scale => { scale.ticks = monthTicks.map(v => ({ value: v })); },
        afterFit: scale => { scale.height = 58; },
        ticks: {
          autoSkip: false,
          maxRotation: 0,
          padding: 9,
          font: { size: 17 },
          color: textColor,
          callback: (value, index) => monthTickLabels[index]
        },
        grid: { display: true, drawOnChartArea: false, drawTicks: true, tickLength: 7, color: axisColor, lineWidth: 1.5 },
        border: { display: true, color: axisColor, width: 1.5 },
        title: { display: true, text: '2009 - 2011', font: { size: 16 }, color: textColor, padding: { top: 0, bottom: -3 } }
      },
      y: {
        min: 0,
        max: 6,
        afterBuildTicks: scale => { scale.ticks = yTicks.map(v => ({ value: v })); },
        afterFit: scale => { scale.width = 65; },
        ticks: { padding: 6, font: { size: 17 }, color: textColor },
        grid: { display: true, drawOnChartArea: false, drawTicks: true, tickLength: 8, color: axisColor, lineWidth: 1.5 },
        border: { display: true, color: axisColor, width: 1.5 }
      }
    }
  },
  plugins: [yTitlePlugin, legendPlugin]
});
</script>
</body>
</html>
